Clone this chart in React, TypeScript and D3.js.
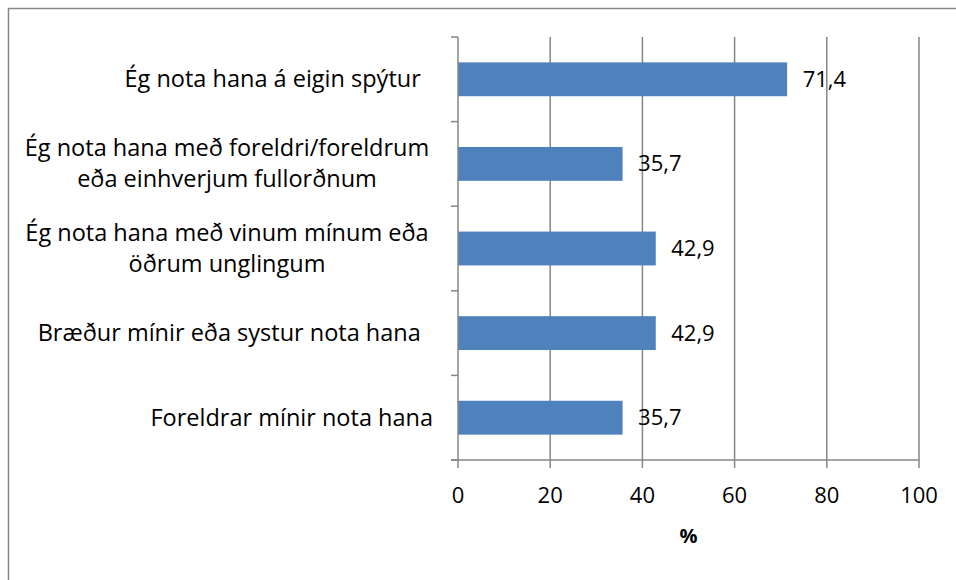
import React from "react";
import * as d3 from "d3";

const categories: string[][] = [
  ["Ég nota hana á eigin spýtur  "],
  ["Ég nota hana með foreldri/foreldrum", "eða einhverjum fullorðnum"],
  ["Ég nota hana með vinum mínum eða", "öðrum unglingum"],
  ["Bræður mínir eða systur nota hana  "],
  ["Foreldrar mínir nota hana"],
];
const values: number[] = [71.4, 35.7, 42.9, 42.9, 35.7];
const xTicks: number[] = [0, 20, 40, 60, 80, 100];
const xTitle = "%";

const W = 956;
const H = 580;
const FONT = "'Open Sans', 'Liberation Sans', sans-serif";
const GRID = "#868686";

export default function App() {
  const x = d3.scaleLinear().domain([0, 100]).range([458, 919]);
  const ids = categories.map((_, i) => String(i));
  const y = d3.scaleBand<string>().domain(ids).range([37, 460]).paddingInner(0.6).paddingOuter(0.3);
  const step = y.step();
  const boundaries = d3.range(ids.length + 1).map((i) => 37 + i * step);
  const fmt = (v: number) => d3.format(".1f")(v).replace(".", ",");
  const labelRight = 433;
  const fs = 23.5;
  const lineH = 31;

  return (
    <svg width={W} height={H} style={{ position: "absolute", left: 0, top: 0, background: "#fff" }} fontFamily={FONT}>
      <rect x={8.5} y={8.5} width={W + 20} height={H + 20} fill="#fff" stroke={GRID} strokeWidth={1.5} />
      {xTicks.slice(1).map((t) => (
        <line key={"g" + t} x1={x(t)} x2={x(t)} y1={37} y2={460} stroke={GRID} strokeWidth={1.5} />
      ))}
      {values.map((v, i) => (
        <rect key={"b" + i} x={x(0)} y={y(String(i))!} width={x(v) - x(0)} height={y.bandwidth()} fill="#4F81BD" />
      ))}
      <line x1={x(0)} x2={x(0)} y1={37} y2={460} stroke={GRID} strokeWidth={1.5} />
      {boundaries.map((b, i) => (
        <line key={"ct" + i} x1={451} x2={x(0)} y1={b} y2={b} stroke={GRID} strokeWidth={1.5} />
      ))}
      <line x1={451} x2={x(100)} y1={460} y2={460} stroke={GRID} strokeWidth={1.5} />
      {xTicks.map((t) => (
        <g key={"xt" + t}>
          <line x1={x(t)} x2={x(t)} y1={460} y2={468} stroke={GRID} strokeWidth={1.5} />
          <text x={x(t)} y={503} textAnchor="middle" fontSize={22} fill="#000">
            {t}
          </text>
        </g>
      ))}
      <text x={(x(0) + x(100)) / 2} y={543} textAnchor="middle" fontSize={20} fontWeight="bold" fill="#000">
        {xTitle}
      </text>
      {values.map((v, i) => (
        <text key={"v" + i} x={x(v) + 15.5} y={y(String(i))! + y.bandwidth() / 2 + 7.5} fontSize={22} fill="#000">
          {fmt(v)}
        </text>
      ))}
      {categories.map((lines, i) => {
        const cy = y(String(i))! + y.bandwidth() / 2;
        const n = lines.length;
        return (
          <text key={"c" + i} fontSize={fs} fill="#000" style={{ whiteSpace: "pre" }}>
            {lines.map((ln, j) => {
              const by = cy + (j - (n - 1) / 2) * lineH + 8;
              if (n === 1) {
                return (
                  <tspan key={j} x={labelRight} y={by} textAnchor="end">
                    {ln}
                  </tspan>
                );
              }
              return (
                <tspan key={j} x={227} y={by} textAnchor="middle">
                  {ln}
                </tspan>
              );
            })}
          </text>
        );
      })}
    </svg>
  );
}
